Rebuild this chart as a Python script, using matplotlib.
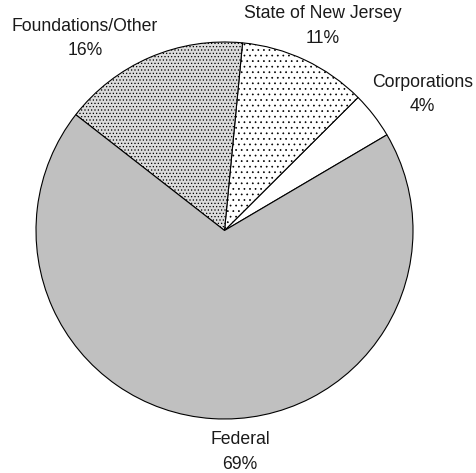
import matplotlib.pyplot as plt

# Funding sources (percent)
sources = ['Corporations', 'State of New Jersey', 'Foundations/Other', 'Federal']
shares = [4, 11, 16, 69]

# Wedge styles
face_colors = ['white', 'white', '#dcdcdc', '#c0c0c0']
hatches = [None, '...', '.....', None]

# Label centres in data units (pie radius = 1)
label_pos = [(1.05, 0.72), (0.52, 1.085), (-0.74, 1.02), (0.082, -1.175)]

plt.rcParams['font.family'] = ['Liberation Sans', 'DejaVu Sans']
plt.rcParams['hatch.linewidth'] = 0.5

fig = plt.figure(figsize=(4.77, 4.73), dpi=100)
ax = fig.add_axes([0, 0, 1, 1])

wedges, _ = ax.pie(shares, startangle=30.5, counterclock=True,
                   colors=face_colors,
                   wedgeprops=dict(edgecolor='black', linewidth=0.8))
for w, h in zip(wedges, hatches):
    if h:
        w.set_hatch(h)

for name, val, (x, y) in zip(sources, shares, label_pos):
    ax.text(x, y, f'{name}\n{val}%', ha='center', va='center',
            multialignment='center', fontsize=12.7, linespacing=1.55,
            color='#1a1a1a')

# 188.5 px per data unit, centre at (224.5, 230.5) px from top-left
ax.set_xlim(-224.5 / 188.5, (477 - 224.5) / 188.5)
ax.set_ylim(-(473 - 230.5) / 188.5, 230.5 / 188.5)
ax.axis('off')

fig.savefig('out.png', dpi=100)
